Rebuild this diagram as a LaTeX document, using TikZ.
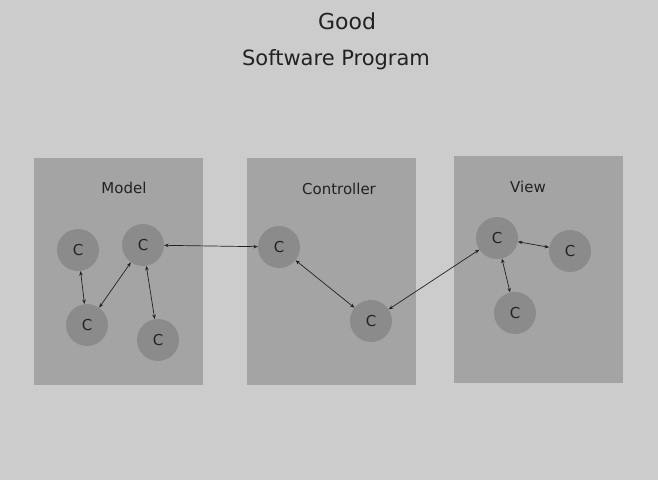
\documentclass[tikz,border=0pt]{standalone}
\usepackage{fontspec}
\setmainfont{DejaVu Sans}
\usetikzlibrary{arrows.meta}
\definecolor{bggray}{HTML}{CCCCCC}
\definecolor{boxgray}{HTML}{A4A4A4}
\definecolor{compgray}{HTML}{8B8B8B}
\definecolor{inkgray}{HTML}{222222}
\begin{document}
\begin{tikzpicture}[x=1pt,y=-1pt]
				\tikzstyle{layer} = [draw=none, fill=boxgray, inner sep=0, minimum width=169pt, minimum height=227pt]
				\tikzstyle{comp} = [circle, fill=compgray, minimum size=42pt, inner sep=0, text=inkgray, font=\fontsize{15}{15}\selectfont]
				\tikzstyle{caption} = [text=inkgray, font=\fontsize{15}{15}\selectfont]
				\tikzstyle{line} = [draw=inkgray, line width=0.7pt, {Stealth[length=4.5pt,width=3.5pt]}-{Stealth[length=4.5pt,width=3.5pt]}]
				\fill[bggray] (0,0) rectangle (658,480);
				\useasboundingbox (0,0) rectangle (658,480);
				\node[text=inkgray, font=\fontsize{22}{22}\selectfont] (title) at (347,21) {Good};
				\node[text=inkgray, font=\fontsize{21}{21}\selectfont] (subtitle) at (336,60) {Software Program};

				\node[layer] (model) at (118.5,271.5) {};
				\node[layer] (controller) at (331,271) {};
				\node[layer] (view) at (538,269.5) {};
				\node[caption] (modell) at (124,188) {Model};
				\node[caption] (controllerl) at (339,189) {Controller};
				\node[caption] (viewl) at (528,187) {View};

				\node[comp] (m1) at (78,250) {C};
				\node[comp] (m2) at (143,245) {C};
				\node[comp] (m3) at (87,325) {C};
				\node[comp] (m4) at (158,340) {C};
				\node[comp] (c1) at (279,247) {C};
				\node[comp] (c2) at (371,321) {C};
				\node[comp] (v1) at (497,238) {C};
				\node[comp] (v2) at (570,251) {C};
				\node[comp] (v3) at (515,313) {C};

				\draw[line] (m1) -- (m3);
				\draw[line] (m3) -- (m2);
				\draw[line] (m2) -- (m4);
				\draw[line] (m2) -- (c1);
				\draw[line] (c1) -- (c2);
				\draw[line] (c2) -- (v1);
				\draw[line] (v1) -- (v2);
				\draw[line] (v1) -- (v3);
			\end{tikzpicture}
\end{document}
